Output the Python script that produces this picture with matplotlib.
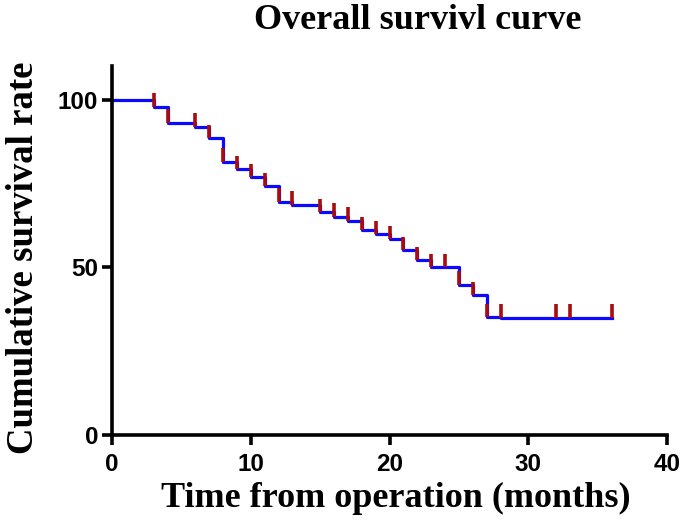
import numpy as np
import matplotlib
matplotlib.use('Agg')
import matplotlib.pyplot as plt

# survival curve (months, %)
step_times = [0, 3, 4, 6, 7, 8, 9, 10, 11, 12, 13, 15, 16, 17, 18, 19, 20,
              21, 22, 23, 24, 25, 26, 27, 28, 32, 33, 36]
survival = [100, 98.0, 93.2, 92.0, 88.6, 81.6, 79.3, 76.9, 74.3, 69.6, 68.7,
            66.4, 65.2, 64.0, 61.2, 59.9, 58.4, 55.2, 52.2, 50.0, 50.0, 44.8,
            41.8, 35.1, 35.0, 35.0, 35.0, 35.0]

# censor marks
censor_times = [3, 4, 6, 7, 8, 9, 10, 11, 12, 13, 15, 16, 17, 18, 19, 20,
                21, 22, 23, 24, 25, 26, 27, 28, 32, 33, 36]

x_ticks = [0, 10, 20, 30, 40]
y_ticks = [0, 50, 100]

fig = plt.figure(figsize=(6.85, 5.27), dpi=100)
ax = fig.add_axes([0.1635, 0.1746, 0.8105, 0.6994])

ax.step(step_times, survival, where='post', color='#0a0aff', lw=2.3, zorder=2)

idx = np.searchsorted(step_times, censor_times, side='right') - 1
levels = np.array(survival)[idx]
ax.vlines(censor_times, levels, levels + 4.0, color='#a80c0c', lw=2.6, zorder=3)

ax.set_xlim(0, 40)
ax.set_ylim(0, 110)
ax.set_xticks(x_ticks)
ax.set_yticks(y_ticks)

for s in ['top', 'right']:
    ax.spines[s].set_visible(False)
for s in ['left', 'bottom']:
    ax.spines[s].set_linewidth(2.6)
ax.tick_params(width=2.6, length=7, direction='out')
ax.tick_params(axis='x', pad=6)
ax.tick_params(axis='y', pad=3)
for lab in ax.get_xticklabels() + ax.get_yticklabels():
    lab.set_fontfamily('Liberation Sans')
    lab.set_fontweight('bold')
    lab.set_fontsize(17.5)

ax.set_xlabel('Time from operation (months)', family='Liberation Serif',
              fontweight='bold', fontsize=26, labelpad=4)
ax.xaxis.label.set_x(0.512)
ax.set_ylabel('Cumulative survival rate', family='Liberation Serif',
              fontweight='bold', fontsize=26.5, labelpad=12)
ax.yaxis.label.set_y(0.48)
fig.text(0.61, 0.962, 'Overall survivl curve', family='Liberation Serif',
         fontweight='bold', fontsize=26, ha='center', va='center')

fig.savefig('out.png', dpi=100)
